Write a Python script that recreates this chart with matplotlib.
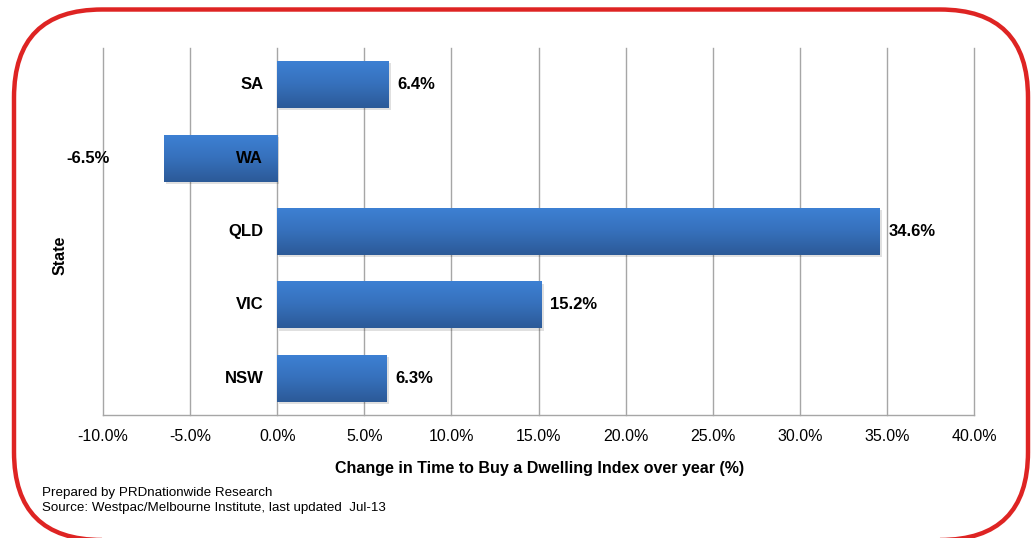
import numpy as np
import matplotlib
matplotlib.use("Agg")
import matplotlib.pyplot as plt
from matplotlib.patches import FancyBboxPatch, Rectangle
from matplotlib.colors import LinearSegmentedColormap

plt.rcParams['font.family'] = ['Liberation Sans', 'DejaVu Sans']

# Data
states = ['SA', 'WA', 'QLD', 'VIC', 'NSW']
changes = [6.4, -6.5, 34.6, 15.2, 6.3]
x_ticks = [-10, -5, 0, 5, 10, 15, 20, 25, 30, 35, 40]
x_label = 'Change in Time to Buy a Dwelling Index over year (%)'
y_label = 'State'
notes = ['Prepared by PRDnationwide Research',
         'Source: Westpac/Melbourne Institute, last updated  Jul-13']

W, H = 1035, 538
fig = plt.figure(figsize=(W / 100, H / 100), dpi=100)

# Rounded red frame drawn in pixel space (y measured upward)
bg = fig.add_axes([0, 0, 1, 1], zorder=0)
bg.set_xlim(0, W)
bg.set_ylim(0, H)
bg.axis('off')
bg.add_patch(FancyBboxPatch((14, -2), 1014, H - 9.5 + 2,
                            boxstyle='round,pad=0,rounding_size=88',
                            fill=False, edgecolor='#de2423', linewidth=3.2,
                            clip_on=False))

ax = fig.add_axes([103 / W, 1 - 415 / H, (974 - 103) / W, (415 - 48) / H], zorder=1)
ax.patch.set_alpha(0)

bar_h = 0.64
grad = LinearSegmentedColormap.from_list('barblue', ['#3d80d3', '#3670bb', '#2c5a98'])
g = np.linspace(0, 1, 64).reshape(-1, 1)

for i, v in enumerate(changes):
    x0, x1 = min(0, v), max(0, v)
    # soft drop shadow
    ax.add_patch(Rectangle((x0 + 0.12, i - bar_h / 2 + 0.03), x1 - x0, bar_h,
                           facecolor='#000000', alpha=0.12, edgecolor='none', zorder=2))
    ax.imshow(g, cmap=grad, aspect='auto', origin='upper',
              extent=(x0, x1, i + bar_h / 2, i - bar_h / 2), zorder=3,
              interpolation='bilinear')

ax.set_xlim(-10, 40)
ax.set_ylim(len(states) - 0.5, -0.5)
ax.set_xticks(x_ticks)
ax.set_xticklabels([f'{t:.1f}%' for t in x_ticks], fontsize=11.5)
ax.set_yticks([])
ax.tick_params(axis='x', length=0, pad=10)
ax.grid(axis='x', color='#a6a6a6', linewidth=1.0, zorder=1)
for gl in ax.get_xgridlines():
    gl.set_clip_on(False)
ax.set_axisbelow(True)
for s in ['top', 'right', 'left']:
    ax.spines[s].set_visible(False)
ax.spines['bottom'].set_color('#a6a6a6')
ax.spines['bottom'].set_linewidth(1.0)

# Category names beside the zero line
for i, name in enumerate(states):
    ax.annotate(name, (0, i), xytext=(-10, 0), textcoords='offset points',
                ha='right', va='center', fontsize=12, fontweight='bold', zorder=5)

# Value labels
for i, v in enumerate(changes):
    if v >= 0:
        ax.annotate(f'{v:.1f}%', (v, i), xytext=(6, 0), textcoords='offset points',
                    ha='left', va='center', fontsize=12, fontweight='bold', zorder=5)
    else:
        ax.annotate(f'{v:.1f}%', (-10, i), xytext=(5, 0), textcoords='offset points',
                    ha='right', va='center', fontsize=12, fontweight='bold', zorder=5,
                    annotation_clip=False)

fig.text(540 / W, 1 - 468 / H, x_label, ha='center', va='center',
         fontsize=11.5, fontweight='bold')
fig.text(60 / W, 1 - 255 / H, y_label, ha='center', va='center', rotation=90,
         fontsize=11.5, fontweight='bold')
fig.text(42 / W, 1 - 493 / H, notes[0], ha='left', va='center', fontsize=9.6)
fig.text(42 / W, 1 - 508 / H, notes[1], ha='left', va='center', fontsize=9.6)

fig.savefig('out.png', dpi=100)
